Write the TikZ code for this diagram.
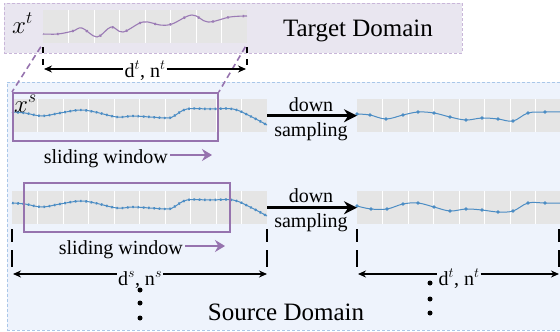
\documentclass[tikz,border=0pt]{standalone}
\usepackage{fix-cm}
\usepackage{fontspec}
\setmainfont{Liberation Serif}
\usetikzlibrary{arrows.meta}
\definecolor{tfill}{HTML}{E9E6F0}
\definecolor{tborder}{HTML}{C9B6D9}
\definecolor{sfill}{HTML}{EEF3FC}
\definecolor{sborder}{HTML}{A9C7E9}
\definecolor{plotgray}{HTML}{E5E5E5}
\definecolor{curveblue}{HTML}{4C8DC4}
\definecolor{curvepurple}{HTML}{9B7BB5}
\definecolor{winpurple}{HTML}{9673AE}
\begin{document}
\begin{tikzpicture}[x=1pt,y=-1pt,
  tdom/.style={draw=tborder, fill=tfill, dash pattern=on 3pt off 2pt, line width=0.9pt, inner sep=0, anchor=north west},
  sdom/.style={draw=sborder, fill=sfill, dash pattern=on 3pt off 2pt, line width=0.9pt, inner sep=0, anchor=north west},
  plotbg/.style={fill=plotgray, inner sep=0, anchor=north west},
  gridln/.style={white, line width=0.8pt},
  bluecurve/.style={draw=curveblue, line width=1pt},
  bluemarks/.style={draw=curveblue, line width=2.4pt, dash pattern=on 1.6pt off 3.7pt},
  purplecurve/.style={draw=curvepurple, line width=1.1pt},
  purplemarks/.style={draw=curvepurple, line width=2.4pt, dash pattern=on 1.6pt off 13.9pt, dash phase=-14pt},
  window/.style={draw=winpurple, line width=1.8pt, inner sep=0, anchor=north west},
  link/.style={draw=winpurple, line width=1.6pt, dash pattern=on 6pt off 4pt},
  tickln/.style={line width=2.2pt},
  dimarrow/.style={line width=1.2pt},
  dsarrow/.style={line width=2.8pt, -{Stealth[length=13pt,width=13pt]}},
  slide/.style={draw=winpurple, line width=2.6pt, -{Stealth[length=10pt,width=12pt]}},
  big/.style={font=\fontsize{25}{30}\selectfont},
  mid/.style={font=\fontsize{20}{24}\selectfont},
  dot/.style={circle, fill=black, inner sep=0, minimum size=5pt}
]
\useasboundingbox (0,0) rectangle (560,332);
\clip (0,0) rectangle (560,332);

% domain boxes
\node (tbox) [tdom, minimum width=458pt, minimum height=50pt] at (4,3) {};
\node (sbox) [sdom, minimum width=575pt, minimum height=248pt] at (7,82) {};

% plot backgrounds
\node (tplot) [plotbg, minimum width=204pt, minimum height=33pt] at (43,10) {};
\node (sp1) [plotbg, minimum width=255pt, minimum height=33pt] at (12,99) {};
\node (sp2) [plotbg, minimum width=255pt, minimum height=33pt] at (12,191) {};
\node (rp1) [plotbg, minimum width=210pt, minimum height=33pt] at (357,99) {};
\node (rp2) [plotbg, minimum width=210pt, minimum height=33pt] at (357,191) {};

% grid lines
\foreach \i in {1,...,7} \draw[gridln] (43+25.5*\i,10) -- (43+25.5*\i,43);
\foreach \i in {1,...,9} {
  \draw[gridln] (12+25.5*\i,99) -- (12+25.5*\i,132);
  \draw[gridln] (12+25.5*\i,191) -- (12+25.5*\i,224);
}
\foreach \i in {1,...,8} {
  \draw[gridln] (357+25.5*\i,99) -- (357+25.5*\i,132);
  \draw[gridln] (357+25.5*\i,191) -- (357+25.5*\i,224);
}

% target curve
\foreach \st in {purplecurve,purplemarks}
  \draw[\st] plot[smooth, tension=0.6] coordinates {(43,34) (58,34) (73,31) (82,28) (97,37) (111,27) (123,32) (143,22) (160,25) (172,24) (192,15) (208,22) (230,17) (247,16)};

% source curves
\foreach \dy in {0,91} {
  \foreach \st in {bluecurve,bluemarks} {
    \begin{scope}[shift={(0,\dy)}]
      \draw[\st] plot[smooth, tension=0.6] coordinates {(12,112) (25,113) (42,116) (60,113) (80,110) (95,112) (117,117) (133,116) (150,117) (168,118) (174,116) (187,109) (210,109) (233,109) (250,116) (267,125)};
    \end{scope}
  }
}

% downsampled curves
\draw[curveblue, line width=1pt, mark=*, mark size=1.1pt, mark options={fill=curveblue}] plot[smooth, tension=0.6] coordinates {(357,114) (370,115) (386,119) (403,115) (418,112) (434,113) (450,117) (466,120) (482,118) (498,119) (513,121) (528,113) (545,112) (562,112)};
\draw[curveblue, line width=1pt, mark=*, mark size=1.1pt, mark options={fill=curveblue}] plot[smooth, tension=0.6] coordinates {(357,206) (371,209) (387,209) (403,204) (418,203) (434,207) (450,211) (466,209) (482,210) (498,212) (513,211) (528,203) (545,203) (562,203)};

% sliding windows
\node (w1) [window, minimum width=205pt, minimum height=48pt] at (12,92) {};
\node (w2) [window, minimum width=206pt, minimum height=49pt] at (23,182) {};

% links from target to window
\draw[link, shorten <=4pt] (tplot.south west) -- (w1.north west);
\draw[link, shorten <=4pt] (tplot.south east) -- (w1.north east);

% labels
\node (xt) [big, anchor=base west, inner sep=0] at (12,33) {$x^t$};
\node (xs) [big, anchor=base west, inner sep=0] at (14,112) {$x^s$};
\node (tdl) [big, anchor=base, inner sep=0] at (358,36) {Target Domain};
\node (sdl) [big, anchor=base, inner sep=0] at (286,320) {Source Domain};

% sliding window labels
\node (sw1) [mid, anchor=base east, inner sep=0] at (168,163) {sliding window};
\coordinate (sw1e) at (212,155);
\draw[slide] (sw1.east |- sw1e) ++(2,0) -- (sw1e);
\node (sw2) [mid, anchor=base east, inner sep=0] at (183,254) {sliding window};
\coordinate (sw2e) at (225,246);
\draw[slide] (sw2.east |- sw2e) ++(2,0) -- (sw2e);

% down sampling
\draw[dsarrow] (sp1.east) -- (rp1.west);
\draw[dsarrow] (sp2.east) -- (rp2.west);
\node (dn1) [mid, anchor=base, inner sep=0] at (311,111) {down};
\node (sm1) [mid, anchor=base, inner sep=0] at (311,136) {sampling};
\node (dn2) [mid, anchor=base, inner sep=0] at (311,202) {down};
\node (sm2) [mid, anchor=base, inner sep=0] at (311,227) {sampling};

% dimension ticks
\draw[tickln, dash pattern=on 6pt off 6pt] (43,47) -- (43,65);
\draw[tickln, dash pattern=on 6pt off 6pt] (247,47) -- (247,65);
\foreach \x in {12,267,357,559}
  \draw[tickln, dash pattern=on 13pt off 8pt on 17pt off 8pt] (\x,229) -- (\x,267);

% dimension arrows
\coordinate (ta) at (44,69); \coordinate (tb) at (246,69);
\node (tlab) [mid, anchor=base, inner sep=1pt, fill=white] at (145,77) {d$^t$, n$^t$};
\draw[dimarrow, {Stealth[length=8pt,width=7pt]}-] (ta) -- (ta -| tlab.west);
\draw[dimarrow, -{Stealth[length=8pt,width=7pt]}] (tb -| tlab.east) -- (tb);

\coordinate (sa) at (13,274); \coordinate (sb) at (267,274);
\node (slab) [mid, anchor=base, inner sep=1pt, fill=sfill] at (140,285) {d$^s$, n$^s$};
\draw[dimarrow, {Stealth[length=8pt,width=7pt]}-] (sa) -- (sa -| slab.west);
\draw[dimarrow, -{Stealth[length=8pt,width=7pt]}] (sb -| slab.east) -- (sb);

\coordinate (ra) at (358,274); \coordinate (rb) at (559,274);
\node (rlab) [mid, anchor=base, inner sep=1pt, fill=sfill] at (459,285) {d$^t$, n$^t$};
\draw[dimarrow, {Stealth[length=8pt,width=7pt]}-] (ra) -- (ra -| rlab.west);
\draw[dimarrow, -{Stealth[length=8pt,width=7pt]}] (rb -| rlab.east) -- (rb);

% ellipsis dots
\node (d1) [dot] at (140,290) {};
\node (d2) [dot] at (140,303) {};
\node (d3) [dot] at (140,318) {};
\node (e1) [dot] at (430,283) {};
\node (e2) [dot] at (430,299) {};
\node (e3) [dot] at (430,313) {};
\end{tikzpicture}
\end{document}
